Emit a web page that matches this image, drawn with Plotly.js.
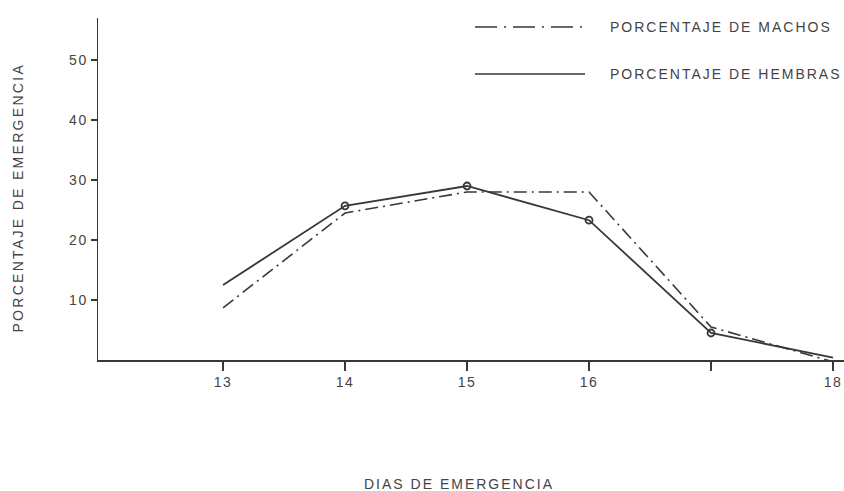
<!DOCTYPE html>
<html>
<head>
<meta charset="utf-8">
<script src="https://cdn.plot.ly/plotly-3.0.1.min.js"></script>
<style>
html,body{margin:0;padding:0;background:#fff;}
#chart{width:844px;height:491px;}
#chart .xtick text, #chart .ytick text{letter-spacing:1.5px;}
#chart .annotation-text-g text{letter-spacing:2px;}
#chart .annotation-text-g text.ytitle-ann{letter-spacing:2.3px;}
</style>
</head>
<body>
<div id="chart"></div>
<script>
// Data
var dias = [13, 14, 15, 16, 17, 18];
var machos = [8.7, 24.5, 28, 28, 5.5, -0.3];
var hembras = [12.5, 25.7, 29, 23.3, 4.5, 0.4];
var xTickVals = [13, 14, 15, 16, 17, 18];
var xTickText = ['13', '14', '15', '16', '', '18'];
var yTickVals = [10, 20, 30, 40, 50];
var nombreMachos = 'PORCENTAJE DE MACHOS';
var nombreHembras = 'PORCENTAJE DE HEMBRAS';
var tituloX = 'DIAS DE EMERGENCIA';
var tituloY = 'PORCENTAJE DE EMERGENCIA';

var ink = '#383838';
var font = 'Liberation Sans, Arial, sans-serif';
var px = function (p) { return (p - 98) / 746; };
var py = function (p) { return (360 - p) / 342; };

var traces = [
  {x: dias, y: machos, mode: 'lines', name: nombreMachos, showlegend: false,
   line: {color: ink, width: 1.6, dash: '13px,5px,2px,5px'}},
  {x: dias, y: hembras, mode: 'lines', name: nombreHembras, showlegend: false,
   line: {color: ink, width: 1.8}},
  {x: dias.slice(1, 5), y: hembras.slice(1, 5), mode: 'markers', showlegend: false,
   hoverinfo: 'skip',
   marker: {symbol: 'circle-open', size: 7, color: ink, line: {width: 1.8, color: ink}}}
];

var layout = {
  width: 844, height: 491,
  margin: {l: 98, r: 0, t: 18, b: 131},
  paper_bgcolor: '#fff', plot_bgcolor: '#fff',
  font: {family: font, color: '#444', size: 14},
  showlegend: false,
  xaxis: {
    range: [11.975, 18.09], showgrid: false, zeroline: false,
    showline: true, linecolor: ink, linewidth: 1.5,
    ticks: 'outside', ticklen: 9, tickwidth: 1.3, tickcolor: ink,
    tickvals: xTickVals, ticktext: xTickText,
    tickfont: {size: 14, color: '#444'}
  },
  yaxis: {
    range: [0, 57], showgrid: false, zeroline: false,
    showline: true, linecolor: ink, linewidth: 1.5,
    ticks: 'outside', ticklen: 6, tickwidth: 1.3, tickcolor: ink,
    tickvals: yTickVals,
    tickfont: {size: 14, color: '#444'}
  },
  shapes: [
    {type: 'line', xref: 'paper', yref: 'paper',
     x0: px(475), x1: px(585), y0: py(27), y1: py(27),
     line: {color: ink, width: 1.5, dash: '22px,7px,2px,7px'}},
    {type: 'line', xref: 'paper', yref: 'paper',
     x0: px(475), x1: px(585), y0: py(74), y1: py(74),
     line: {color: ink, width: 1.6}}
  ],
  annotations: [
    {xref: 'paper', yref: 'paper', x: px(628), y: py(27),
     xanchor: 'left', yanchor: 'middle', showarrow: false, text: nombreMachos,
     font: {size: 14, color: '#444'}},
    {xref: 'paper', yref: 'paper', x: px(629), y: py(74),
     xanchor: 'left', yanchor: 'middle', showarrow: false, text: nombreHembras,
     font: {size: 14, color: '#444'}},
    {xref: 'paper', yref: 'paper', x: px(459), y: py(484),
     xanchor: 'center', yanchor: 'middle', showarrow: false, text: tituloX,
     font: {size: 14, color: '#444'}},
    {xref: 'paper', yref: 'paper', x: px(18), y: py(198),
     xanchor: 'center', yanchor: 'middle', showarrow: false, text: tituloY,
     textangle: -90, font: {size: 14, color: '#444'}}
  ]
};

Plotly.newPlot('chart', traces, layout, {displayModeBar: false, staticPlot: true}).then(function () {
  var anns = document.querySelectorAll('#chart .annotation-text-g text');
  if (anns.length) { anns[anns.length - 1].classList.add('ytitle-ann'); }
});
</script>
</body>
</html>
